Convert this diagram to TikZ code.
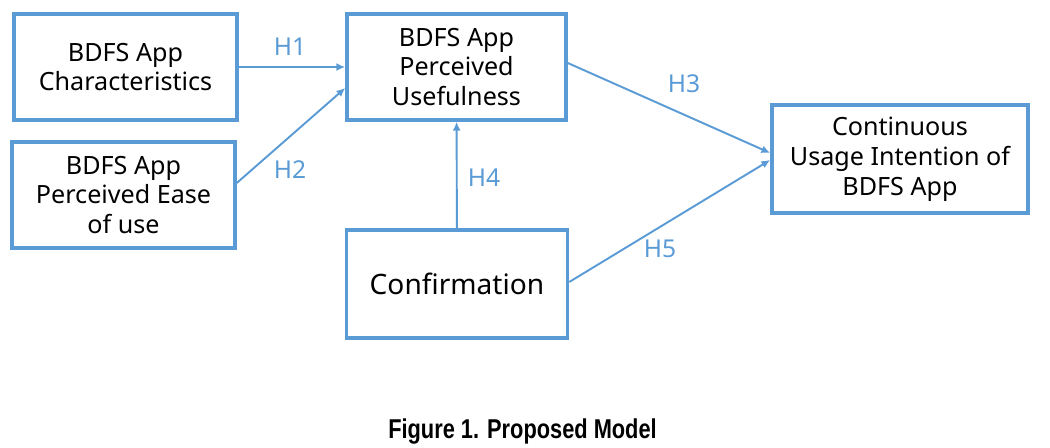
\documentclass[tikz,border=0pt]{standalone}
\usepackage{fontspec}
\setmainfont{Noto Sans}
\newfontfamily\capfont[FakeStretch=0.8]{Liberation Sans}
\usetikzlibrary{arrows.meta, positioning}
\definecolor{boxblue}{RGB}{91,155,213}

\tikzset{
  factor/.style={draw=boxblue, line width=2pt, align=center, inner sep=0pt,
    minimum height=2.12cm, font=\fontsize{14.3}{17}\selectfont},
  hyp/.style={draw=boxblue, line width=1.1pt, -{Latex[length=5pt,width=4.5pt]}},
  hlabel/.style={text=boxblue, font=\fontsize{14}{17}\selectfont}
}

\begin{document}
\begin{tikzpicture}
  \useasboundingbox (0,0) rectangle (21,8.94);

  % Constructs
  \node[factor, minimum width=4.46cm] (chars) at (2.51,7.6) {BDFS App\\Characteristics};
  \node[factor, minimum width=4.46cm] (ease) at (2.47,5.04) {BDFS App\\Perceived Ease\\of use};
  \node[factor, minimum width=4.38cm] (useful) at (9.13,7.6) {BDFS App\\Perceived\\Usefulness};
  \node[factor, minimum width=4.42cm, minimum height=2.16cm,
    font=\fontsize{16}{19}\selectfont] (confirm) at (9.14,3.26) {Confirmation};
  \node[factor, minimum width=5.12cm, minimum height=2.16cm] (intent) at (18.0,5.76)
    {Continuous\\Usage Intention of\\BDFS App};

  % Hypotheses
  \draw[hyp] (chars) -- (useful);
  \draw[hyp] ([yshift=0.24cm]ease.east) -- ([yshift=-0.42cm]useful.west);
  \draw[hyp] ([yshift=0.08cm]useful.east) -- ([yshift=0.12cm]intent.west);
  \draw[hyp] (confirm) -- (useful);
  \draw[hyp] ([yshift=0.04cm]confirm.east) -- ([yshift=-0.02cm]intent.west);

  \node[hlabel] (h1) at (5.8,8.0) {H1};
  \node[hlabel] (h2) at (5.8,5.54) {H2};
  \node[hlabel] (h3) at (13.68,7.26) {H3};
  \node[hlabel] (h4) at (9.68,5.38) {H4};
  \node[hlabel] (h5) at (13.2,3.96) {H5};

  % Caption
  \node[font=\capfont\bfseries\fontsize{15.5}{18}\selectfont] (cap) at (10.45,0.3)
    {Figure 1. Proposed Model};
\end{tikzpicture}
\end{document}
